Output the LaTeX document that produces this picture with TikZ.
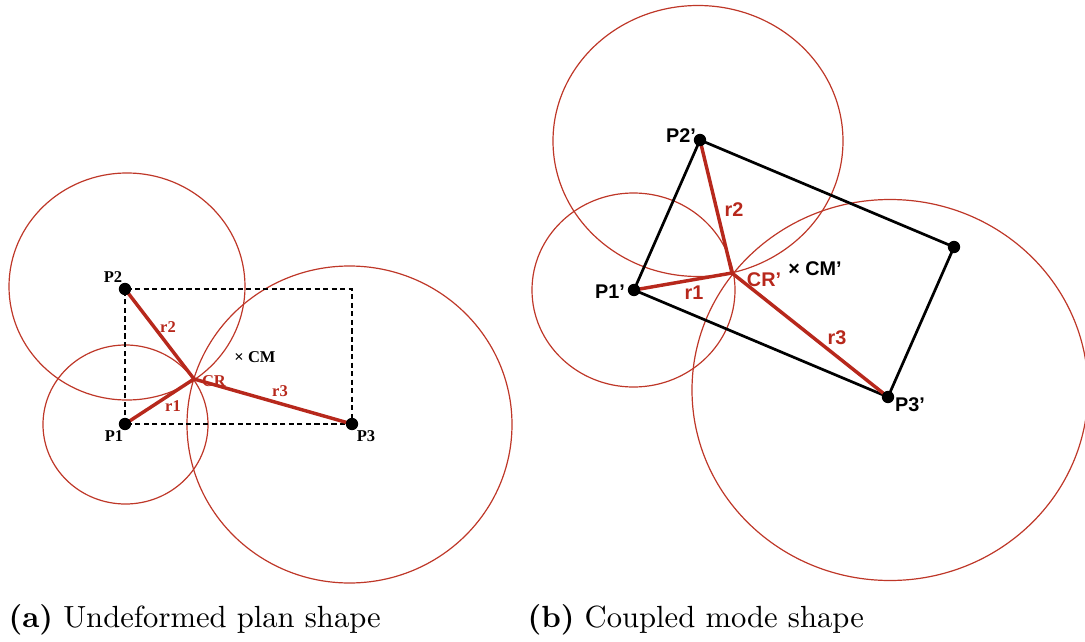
\documentclass[tikz,border=0pt]{standalone}
\usepackage{fontspec}
\usepackage{tikz}
\usetikzlibrary{calc}
\newfontfamily\lblserif{Liberation Serif}
\newfontfamily\lblsans{Liberation Sans}
\definecolor{crred}{RGB}{183,40,28}
\definecolor{ringred}{RGB}{190,55,40}
\tikzset{
  pt/.style={circle, fill=black, inner sep=0pt, minimum size=1.45mm},
  arm/.style={line width=1.15pt, color=crred},
  ring/.style={line width=0.4pt, color=ringred},
  plan/.style={line width=0.8pt, dashed, dash pattern=on 0.6mm off 0.4mm},
  mode/.style={line width=0.9pt, color=black},
  lbla/.style={font=\lblserif\bfseries\fontsize{5.5}{6.5}\selectfont},
  lblb/.style={font=\lblsans\bfseries\fontsize{6.6}{8}\selectfont},
  capt/.style={anchor=base west, inner sep=0pt, font=\fontsize{10.2}{12}\selectfont}
}

\begin{document}
\begin{tikzpicture}[x=0.1171mm, y=-0.1171mm]
  \useasboundingbox (0,0) rectangle (1085,642);

  % (a) Undeformed plan shape
  \coordinate (p1) at (125,424);
  \coordinate (p2) at (125,289);
  \coordinate (p3) at (352,424);
  \coordinate (p4) at (352,289);
  \coordinate (cr) at (194,379);

  % circles through CR
  \draw[ring] (125.5,424.5) ellipse [x radius=82.5, y radius=79.5];
  \draw[ring] (127,286.5) ellipse [x radius=118, y radius=113.5];
  \draw[ring] (349.5,424.5) ellipse [x radius=162.5, y radius=158.5];

  % plan outline
  \draw[plan] (p1) -- (p2) -- (p4) -- (p3) -- cycle;

  % radii to CR
  \draw[arm] (p1) -- (cr);
  \draw[arm] (p2) -- (cr);
  \draw[arm] (p3) -- (cr);

  \node[pt] (d1) at (p1) {};
  \node[pt] (d2) at (p2) {};
  \node[pt] (d3) at (p3) {};

  \node[lbla] (l1) at (114,436) {P1};
  \node[lbla] (l2) at (113,277) {P2};
  \node[lbla] (l3) at (366,436) {P3};
  \node[lbla, color=crred] (lr1) at (173,406) {r1};
  \node[lbla, color=crred] (lr2) at (168,327) {r2};
  \node[lbla, color=crred] (lr3) at (280,391) {r3};
  \node[lbla, color=crred] (lcr) at (214,381) {CR};
  \node[lbla] (lcm) at (255,357) {× CM};

  % (b) Coupled mode shape
  \coordinate (q1) at (634,290);
  \coordinate (q2) at (700,140);
  \coordinate (q3) at (888,397);
  \coordinate (q4) at (954,247);
  \coordinate (cq) at (732,273);

  % circles through CR'
  \draw[ring] (633.5,290) ellipse [x radius=101.5, y radius=97];
  \draw[ring] (698,141) ellipse [x radius=145, y radius=135.5];
  \draw[ring] (890,390) ellipse [x radius=198, y radius=190.5];

  % deformed outline
  \draw[mode] (q1) -- (q2) -- (q4) -- (q3) -- cycle;

  % radii to CR'
  \draw[arm] (q1) -- (cq);
  \draw[arm] (q2) -- (cq);
  \draw[arm] (q3) -- (cq);

  \node[pt] (e1) at (q1) {};
  \node[pt] (e2) at (q2) {};
  \node[pt] (e3) at (q3) {};
  \node[pt] (e4) at (q4) {};

  \node[lblb] (m1) at (610,292) {P1’};
  \node[lblb] (m2) at (681,136) {P2’};
  \node[lblb] (m3) at (910,405) {P3’};
  \node[lblb, color=crred] (mr1) at (694,293) {r1};
  \node[lblb, color=crred] (mr2) at (734,210) {r2};
  \node[lblb, color=crred] (mr3) at (837,338) {r3};
  \node[lblb, color=crred] (mcr) at (764,280) {CR’};
  \node[lblb] (mcm) at (815,269) {× CM’};

  % captions
  \node[capt] (capa) at (8,627) {\textbf{(a)} Undeformed plan shape};
  \node[capt] (capb) at (527,627) {\textbf{(b)} Coupled mode shape};
\end{tikzpicture}
\end{document}
